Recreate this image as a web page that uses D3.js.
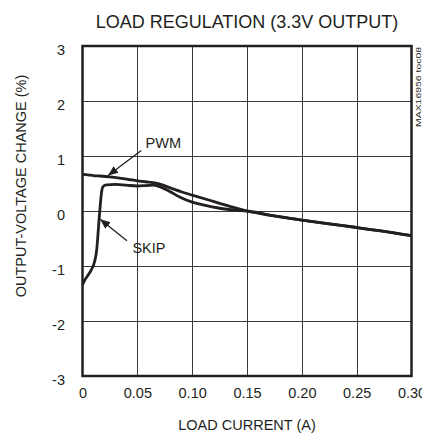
<!DOCTYPE html>
<html>
<head>
<meta charset="utf-8">
<script src="https://cdn.jsdelivr.net/npm/d3@7"></script>
<style>
  html, body { margin: 0; padding: 0; background: #fff; }
  svg { display: block; }
  text { font-family: "Liberation Sans", Arial, Helvetica, sans-serif; fill: #231f20; }
</style>
</head>
<body>
<div id="chart"></div>
<script>
// ---- data ----
const title = "LOAD REGULATION (3.3V OUTPUT)";
const xLabel = "LOAD CURRENT (A)";
const yLabel = "OUTPUT-VOLTAGE CHANGE (%)";
const watermark = "MAX16956 toc08";

const xTicks = [0, 0.05, 0.10, 0.15, 0.20, 0.25, 0.30];
const xTickLabels = ["0", "0.05", "0.10", "0.15", "0.20", "0.25", "0.30"];
const yTicks = [3, 2, 1, 0, -1, -2, -3];
const yTickLabels = ["3", "2", "1", "0", "-1", "-2", "-3"];

const pwmX = [0, 0.005, 0.01, 0.016, 0.025, 0.037, 0.045, 0.052, 0.06, 0.066, 0.072, 0.08, 0.09, 0.10, 0.115, 0.125, 0.135, 0.15, 0.175, 0.20, 0.225, 0.25, 0.275, 0.30];
const pwmY = [0.667, 0.658, 0.645, 0.636, 0.62, 0.59, 0.565, 0.545, 0.525, 0.51, 0.48, 0.42, 0.35, 0.29, 0.20, 0.14, 0.08, 0.0, -0.09, -0.165, -0.235, -0.30, -0.37, -0.45];

const skipX = [0, 0.002, 0.005, 0.008, 0.011, 0.013, 0.0145, 0.016, 0.0175, 0.019, 0.022, 0.03, 0.04, 0.05, 0.058, 0.065, 0.072, 0.08, 0.09, 0.10, 0.11, 0.125, 0.14, 0.15, 0.175, 0.20, 0.225, 0.25, 0.275, 0.30];
const skipY = [-1.34, -1.26, -1.17, -1.07, -0.92, -0.70, -0.32, 0.06, 0.36, 0.45, 0.475, 0.485, 0.47, 0.455, 0.462, 0.47, 0.43, 0.35, 0.24, 0.16, 0.11, 0.05, 0.015, 0.0, -0.09, -0.165, -0.235, -0.30, -0.37, -0.45];

// annotations: label, label position (data), arrow tail (data), arrow tip (data)
const annLabels = ["PWM", "SKIP"];
const annTextX = [0.0575, 0.0455];
const annTextY = [1.14, -0.76];
const annTailX = [0.0536, 0.0405];
const annTailY = [1.1, -0.54];
const annTipX = [0.0233, 0.0161];
const annTipY = [0.645, -0.15];

// ---- layout ----
const W = 422, H = 437;
const m = { left: 82.5, right: 10.5, top: 46, bottom: 61 };

const svg = d3.select("#chart").append("svg").attr("width", W).attr("height", H);

const x = d3.scaleLinear().domain([0, 0.3]).range([m.left, W - m.right]);
const y = d3.scaleLinear().domain([-3, 3]).range([H - m.bottom, m.top]);

// grid
const grid = svg.append("g").attr("stroke", "#3a3a3a").attr("stroke-width", 1);
grid.selectAll("line.v").data(xTicks.slice(1, -1)).join("line")
  .attr("x1", d => Math.round(x(d)) + 0.5).attr("x2", d => Math.round(x(d)) + 0.5)
  .attr("y1", y(3)).attr("y2", y(-3));
grid.selectAll("line.h").data(yTicks.slice(1, -1)).join("line")
  .attr("y1", d => Math.round(y(d)) + 0.5).attr("y2", d => Math.round(y(d)) + 0.5)
  .attr("x1", x(0)).attr("x2", x(0.3));

// axes via d3 (labels only)
const xAxis = d3.axisBottom(x).tickValues(xTicks).tickFormat((d, i) => xTickLabels[i]).tickSize(0).tickPadding(0);
const gx = svg.append("g").attr("transform", `translate(0,${y(-3)})`).call(xAxis);
gx.select(".domain").remove();
gx.selectAll("text").attr("font-size", 14.5).attr("font-family", "Liberation Sans, Arial, sans-serif")
  .attr("fill", "#231f20").attr("dy", null).attr("y", 21.5);

const yAxis = d3.axisLeft(y).tickValues(yTicks).tickFormat((d, i) => yTickLabels[i]).tickSize(0).tickPadding(0);
const gy = svg.append("g").attr("transform", `translate(${x(0)},0)`).call(yAxis);
gy.select(".domain").remove();
gy.selectAll("text").attr("font-size", 14.5).attr("font-family", "Liberation Sans, Arial, sans-serif")
  .attr("fill", "#231f20").attr("x", -17.5).attr("dy", null).attr("y", 8);

// curves
const line = d3.line().x(d => x(d[0])).y(d => y(d[1])).curve(d3.curveMonotoneX);
const pwm = pwmX.map((v, i) => [v, pwmY[i]]);
const skip = skipX.map((v, i) => [v, skipY[i]]);
const clip = svg.append("clipPath").attr("id", "clip").append("rect")
  .attr("x", x(0)).attr("y", y(3)).attr("width", x(0.3) - x(0)).attr("height", y(-3) - y(3));
const curves = svg.append("g").attr("clip-path", "url(#clip)");
curves.append("path").datum(skip).attr("d", line)
  .attr("fill", "none").attr("stroke", "#231f20").attr("stroke-width", 2.8).attr("stroke-linejoin", "round");
curves.append("path").datum(pwm).attr("d", line)
  .attr("fill", "none").attr("stroke", "#231f20").attr("stroke-width", 2.8).attr("stroke-linejoin", "round");

// frame
svg.append("rect").attr("x", x(0)).attr("y", y(3)).attr("width", x(0.3) - x(0)).attr("height", y(-3) - y(3))
  .attr("fill", "none").attr("stroke", "#231f20").attr("stroke-width", 2.5);

// annotations
const defs = svg.append("defs");
defs.append("marker").attr("id", "ah").attr("viewBox", "0 0 10 10").attr("refX", 10).attr("refY", 5)
  .attr("markerWidth", 10).attr("markerHeight", 10).attr("markerUnits", "userSpaceOnUse").attr("orient", "auto")
  .append("path").attr("d", "M0,0.8 L10,5 L0,9.2 Z").attr("fill", "#231f20");
annLabels.forEach((lab, i) => {
  svg.append("line")
    .attr("x1", x(annTailX[i])).attr("y1", y(annTailY[i]))
    .attr("x2", x(annTipX[i])).attr("y2", y(annTipY[i]))
    .attr("stroke", "#231f20").attr("stroke-width", 1.3).attr("marker-end", "url(#ah)");
  svg.append("text").attr("x", x(annTextX[i])).attr("y", y(annTextY[i]))
    .attr("font-size", 14.5).text(lab);
});

// titles
svg.append("text").attr("x", (x(0) + x(0.3)) / 2).attr("y", 28).attr("text-anchor", "middle")
  .attr("font-size", 18).text(title);
svg.append("text").attr("x", (x(0) + x(0.3)) / 2).attr("y", 430).attr("text-anchor", "middle")
  .attr("font-size", 14.5).text(xLabel);
svg.append("text").attr("transform", "translate(25.5,186) rotate(-90)").attr("text-anchor", "middle")
  .attr("font-size", 14.5).text(yLabel);
svg.append("text").attr("transform", "translate(421,47) rotate(-90)").attr("text-anchor", "end")
  .attr("font-size", 8).attr("fill", "#444").attr("textLength", 80).attr("lengthAdjust", "spacingAndGlyphs")
  .text(watermark);
</script>
</body>
</html>
